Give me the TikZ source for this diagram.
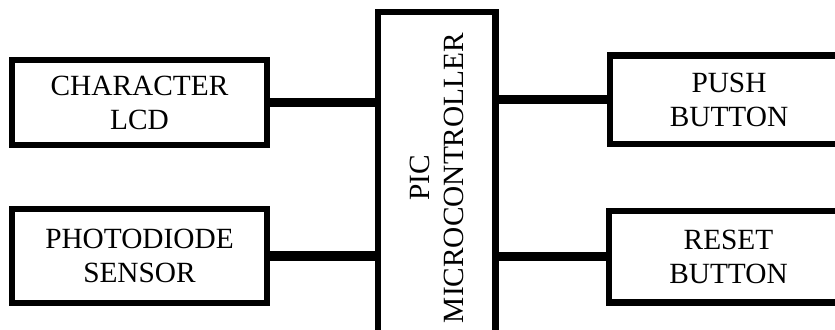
\documentclass[tikz,border=0pt]{standalone}
\usepackage{fontspec}
\setmainfont{Liberation Serif}
\begin{document}
\begin{tikzpicture}[x=0.75pt,y=-0.75pt,
  blk/.style={draw=black, line width=4.6pt, fill=white, inner sep=0pt, outer sep=0pt,
    align=center, font=\fontsize{22}{25.5}\selectfont},
  wire/.style={draw=black, line width=6.8pt}]
\useasboundingbox (0,0) rectangle (835,329);
\clip (0,0) rectangle (835,329);
\node[blk, minimum width=191.25pt, minimum height=63.75pt] (lcd) at (139.5,102.5) {CHARACTER\\LCD};
\node[blk, minimum width=191.25pt, minimum height=70.5pt] (photo) at (139.5,256) {PHOTODIODE\\SENSOR};
\node[blk, minimum width=88.1pt, minimum height=249pt] (mcu) at (436.75,178) {};
\node[rotate=90, align=center, inner sep=0pt, font=\fontsize{22}{25.5}\selectfont] (mcutext) at (mcu.center) {PIC\\MICROCONTROLLER};
\node[blk, minimum width=178.5pt, minimum height=66.4pt] (push) at (729,99.75) {PUSH\\BUTTON};
\node[blk, minimum width=179.25pt, minimum height=68.6pt] (reset) at (728.5,256.75) {RESET\\BUTTON};
\draw[wire] (lcd.east) -- (lcd.east -| mcu.west);
\draw[wire] (photo.east) -- (photo.east -| mcu.west);
\draw[wire] (push.west) -- (push.west -| mcu.east);
\draw[wire] (reset.west) -- (reset.west -| mcu.east);
\end{tikzpicture}
\end{document}
